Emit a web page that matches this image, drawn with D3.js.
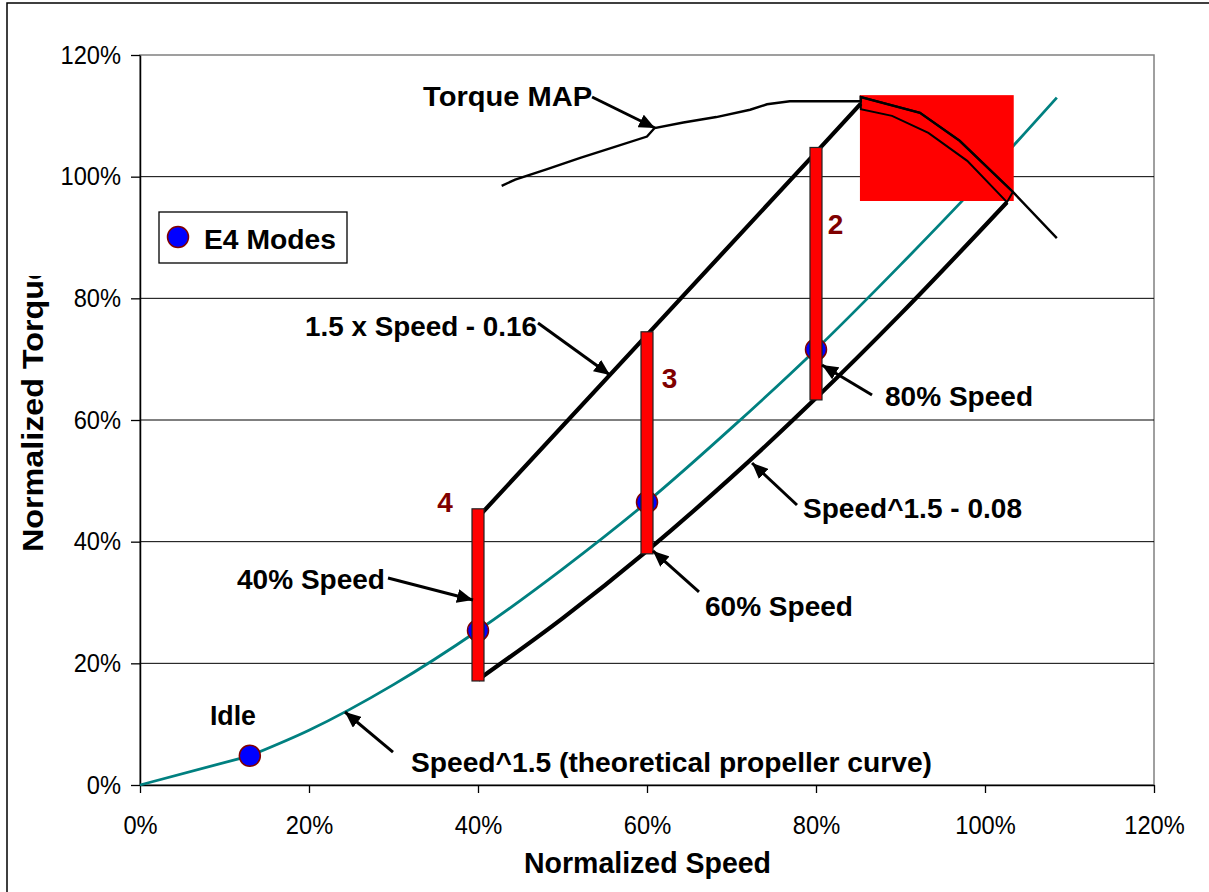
<!DOCTYPE html>
<html>
<head>
<meta charset="utf-8">
<script src="https://cdn.jsdelivr.net/npm/d3@7"></script>
<style>
  body { margin: 0; background: #fff; }
  svg { display: block; font-family: "Liberation Sans", Arial, sans-serif; }
</style>
</head>
<body>
<script>
const axisTicks = [0, 0.2, 0.4, 0.6, 0.8, 1.0, 1.2];

// theoretical propeller curve, Speed^1.5
const propSpeed = [0, 0.13, 0.2, 0.3, 0.4, 0.5, 0.6, 0.7, 0.8, 0.9, 1.0, 1.085];
const propTorque = [0, 0.048, 0.090, 0.165, 0.254, 0.355, 0.465, 0.587, 0.716, 0.855, 1.0, 1.13];

// upper limit, 1.5 x Speed - 0.16
const upperSpeed = [0.4, 0.6, 0.8, 0.853];
const upperTorque = [0.44, 0.74, 1.04, 1.12];

// lower limit, Speed^1.5 - 0.08
const lowerSpeed = [0.4, 0.5, 0.6, 0.7, 0.8, 0.9, 1.026];
const lowerTorque = [0.173, 0.274, 0.385, 0.506, 0.636, 0.774, 0.958];

// torque map, rising part up to the flat top
const mapSpeed = [0.428, 0.444, 0.481, 0.521, 0.560, 0.600, 0.609, 0.643, 0.682, 0.722, 0.742, 0.769, 0.853];
const mapTorque = [0.985, 0.995, 1.012, 1.031, 1.048, 1.066, 1.080, 1.089, 1.098, 1.110, 1.119, 1.124, 1.124];

// torque map, falling part (upper edge of the band) and its tail
const mapFallSpeed = [0.853, 0.923, 0.970, 1.033];
const mapFallTorque = [1.131, 1.105, 1.059, 0.975];
const mapTailSpeed = [1.033, 1.085];
const mapTailTorque = [0.975, 0.899];

// lower edge of the band
const bandSpeed = [0.853, 0.890, 0.933, 0.979, 1.026];
const bandTorque = [1.111, 1.100, 1.072, 1.026, 0.958];

// mode 1 window
const mode1Speed = [0.852, 1.034];
const mode1Torque = [0.96, 1.134];

// E4 modes
const modeSpeed = [0.13, 0.4, 0.6, 0.8];
const modeTorque = [0.048, 0.254, 0.465, 0.716];

// torque windows for modes 4, 3, 2
const barSpeed = [0.4, 0.6, 0.8];
const barLow = [0.171, 0.38, 0.633];
const barHigh = [0.454, 0.745, 1.048];
const barNames = ['4', '3', '2'];

const width = 1209, height = 892;
const x = d3.scaleLinear().domain([0, 1.2]).range([140, 1154]);
const y = d3.scaleLinear().domain([0, 1.2]).range([785, 55]);

const zip = (a, b) => a.map((v, i) => [v, b[i]]);
const line = d3.line().x((d) => x(d[0])).y((d) => y(d[1]));
const smooth = d3.line().x((d) => x(d[0])).y((d) => y(d[1])).curve(d3.curveMonotoneX);

// label spots in data units: text start + baseline, arrow tail -> tip
const notes = [
  { text: 'Torque MAP', at: [0.335, 1.116], w: 169, size: 27, tail: [0.535, 1.131], tip: [0.6095, 1.080] },
  { text: '1.5 x Speed - 0.16', at: [0.1953, 0.7381], w: 232, tail: [0.471, 0.7595], tip: [0.5562, 0.674] },
  { text: '80% Speed', at: [0.8817, 0.623], w: 148, tail: [0.8663, 0.6411], tip: [0.8071, 0.6904] },
  { text: 'Speed^1.5 - 0.08', at: [0.7846, 0.4389], w: 219, tail: [0.7775, 0.4603], tip: [0.7243, 0.5293] },
  { text: '60% Speed', at: [0.6686, 0.2778], w: 148, tail: [0.6615, 0.3173], tip: [0.6071, 0.3847] },
  { text: '40% Speed', at: [0.1148, 0.3222], w: 148, tail: [0.2935, 0.3403], tip: [0.3941, 0.3041] },
  { text: 'Idle', at: [0.0828, 0.0986], w: 46 },
  { text: 'Speed^1.5 (theoretical propeller curve)', at: [0.3207, 0.0214], w: 521, tail: [0.2994, 0.0542], tip: [0.2426, 0.12] },
];
const barNameAt = [[0.361, 0.449], [0.6266, 0.653], [0.823, 0.906]];

const svg = d3.select('body').append('svg')
  .attr('width', width)
  .attr('height', height);

svg.append('defs').append('marker')
  .attr('id', 'head')
  .attr('viewBox', '-16 -7 16 14')
  .attr('refX', 0).attr('refY', 0)
  .attr('markerUnits', 'userSpaceOnUse')
  .attr('markerWidth', 16).attr('markerHeight', 14)
  .attr('orient', 'auto')
  .append('path')
  .attr('d', 'M0,0L-16,-7L-16,7Z')
  .attr('fill', '#000');

svg.select('defs').append('clipPath')
  .attr('id', 'ytitle-clip')
  .append('rect')
  .attr('x', 0).attr('y', 276).attr('width', 130).attr('height', 400);

svg.append('rect').attr('width', width).attr('height', height).attr('fill', '#fff');
svg.append('rect')
  .attr('x', 7).attr('y', 3).attr('width', 1240).attr('height', 920)
  .attr('fill', 'none').attr('stroke', '#000').attr('stroke-width', 1.5);

// plot area
svg.append('rect')
  .attr('x', x(0)).attr('y', y(1.2))
  .attr('width', x(1.2) - x(0)).attr('height', y(0) - y(1.2))
  .attr('fill', '#fff').attr('stroke', '#808080').attr('stroke-width', 1.5);

svg.append('g')
  .selectAll('line')
  .data(axisTicks.slice(1, -1))
  .join('line')
  .attr('x1', x(0)).attr('x2', x(1.2))
  .attr('y1', (d) => y(d)).attr('y2', (d) => y(d))
  .attr('stroke', '#000').attr('stroke-width', 1);

const pct = d3.format('.0%');

const xAxis = svg.append('g')
  .attr('transform', `translate(0,${y(0)})`)
  .call(d3.axisBottom(x).tickValues(axisTicks).tickFormat(pct)
    .tickSize(8).tickSizeOuter(0).tickPadding(23));

const yAxis = svg.append('g')
  .attr('transform', `translate(${x(0)},0)`)
  .call(d3.axisLeft(y).tickValues(axisTicks).tickFormat(pct)
    .tickSize(9).tickSizeOuter(0).tickPadding(10));

[xAxis, yAxis].forEach((g) => {
  g.selectAll('text')
    .attr('font-size', 26)
    .attr('font-family', 'Liberation Sans, Arial, sans-serif')
    .attr('fill', '#000')
    .attr('lengthAdjust', 'spacingAndGlyphs')
    .attr('textLength', function () { return this.getComputedTextLength() * 0.91; });
  g.selectAll('line').attr('stroke', '#000').attr('stroke-width', 1.3);
  g.select('.domain').attr('stroke', '#000').attr('stroke-width', 1.5);
});

// propeller curve: straight to idle, smooth after
const prop = zip(propSpeed, propTorque);
svg.append('path')
  .datum(prop)
  .attr('d', (d) => line(d.slice(0, 2)) + smooth(d.slice(1)).replace(/^M/, 'L'))
  .attr('fill', 'none').attr('stroke', '#008080').attr('stroke-width', 2.8);

// mode 1 window
svg.append('rect')
  .attr('x', x(mode1Speed[0])).attr('y', y(mode1Torque[1]))
  .attr('width', x(mode1Speed[1]) - x(mode1Speed[0]))
  .attr('height', y(mode1Torque[0]) - y(mode1Torque[1]))
  .attr('fill', '#ff0000');

// upper and lower limit lines
svg.append('path')
  .datum(zip(upperSpeed, upperTorque))
  .attr('d', line)
  .attr('fill', 'none').attr('stroke', '#000')
  .attr('stroke-width', 4.2).attr('stroke-linejoin', 'round');

svg.append('path')
  .datum(zip(lowerSpeed, lowerTorque))
  .attr('d', smooth)
  .attr('fill', 'none').attr('stroke', '#000')
  .attr('stroke-width', 4.2).attr('stroke-linejoin', 'round');

// torque map
svg.append('path')
  .datum(zip(mapSpeed, mapTorque).concat(zip(mapFallSpeed, mapFallTorque), zip(mapTailSpeed, mapTailTorque)))
  .attr('d', line)
  .attr('fill', 'none').attr('stroke', '#000').attr('stroke-width', 2.4);

svg.append('path')
  .datum(zip(mapFallSpeed, mapFallTorque).concat(zip(bandSpeed, bandTorque).reverse()))
  .attr('d', (d) => line(d) + 'Z')
  .attr('fill', 'none').attr('stroke', '#000').attr('stroke-width', 2);

// E4 modes
svg.append('g')
  .selectAll('circle')
  .data(zip(modeSpeed, modeTorque))
  .join('circle')
  .attr('cx', (d) => x(d[0])).attr('cy', (d) => y(d[1]))
  .attr('r', 10.5)
  .attr('fill', '#0000ff').attr('stroke', '#800000').attr('stroke-width', 1.5);

// torque windows
svg.append('g')
  .selectAll('rect')
  .data(barSpeed)
  .join('rect')
  .attr('x', (d) => x(d) - 6)
  .attr('y', (d, i) => y(barHigh[i]))
  .attr('width', 12)
  .attr('height', (d, i) => y(barLow[i]) - y(barHigh[i]))
  .attr('fill', '#ff0000').attr('stroke', '#222').attr('stroke-width', 1.2);

svg.append('g')
  .selectAll('text')
  .data(barNames)
  .join('text')
  .attr('x', (d, i) => x(barNameAt[i][0]))
  .attr('y', (d, i) => y(barNameAt[i][1]))
  .attr('text-anchor', 'middle')
  .attr('font-size', 28).attr('font-weight', 'bold').attr('fill', '#800000')
  .text((d) => d);

// annotations
const note = svg.append('g');
note.selectAll('line')
  .data(notes.filter((d) => d.tip))
  .join('line')
  .attr('x1', (d) => x(d.tail[0])).attr('y1', (d) => y(d.tail[1]))
  .attr('x2', (d) => x(d.tip[0])).attr('y2', (d) => y(d.tip[1]))
  .attr('stroke', '#000').attr('stroke-width', 3)
  .attr('marker-end', 'url(#head)');

note.selectAll('text')
  .data(notes)
  .join('text')
  .attr('x', (d) => x(d.at[0])).attr('y', (d) => y(d.at[1]))
  .attr('font-size', (d) => d.size || 28).attr('font-weight', 'bold')
  .attr('textLength', (d) => d.w).attr('lengthAdjust', 'spacingAndGlyphs')
  .text((d) => d.text);

// legend
const legend = svg.append('g');
legend.append('rect')
  .attr('x', 159).attr('y', 212).attr('width', 188).attr('height', 51)
  .attr('fill', '#fff').attr('stroke', '#000').attr('stroke-width', 1.3);
legend.append('circle')
  .attr('cx', 178).attr('cy', 237).attr('r', 10.5)
  .attr('fill', '#0000ff').attr('stroke', '#800000').attr('stroke-width', 1.5);
legend.append('text')
  .attr('x', 204).attr('y', 249)
  .attr('font-size', 28).attr('font-weight', 'bold')
  .attr('textLength', 132).attr('lengthAdjust', 'spacingAndGlyphs')
  .text('E4 Modes');

// axis titles
svg.append('text')
  .attr('x', 524).attr('y', 873)
  .attr('font-size', 30).attr('font-weight', 'bold')
  .attr('textLength', 247).attr('lengthAdjust', 'spacingAndGlyphs')
  .text('Normalized Speed');

svg.append('g')
  .attr('clip-path', 'url(#ytitle-clip)')
  .append('text')
  .attr('transform', 'translate(43,552) rotate(-90)')
  .attr('font-size', 30).attr('font-weight', 'bold')
  .attr('textLength', 290).attr('lengthAdjust', 'spacingAndGlyphs')
  .text('Normalized Torque');
</script>
</body>
</html>
